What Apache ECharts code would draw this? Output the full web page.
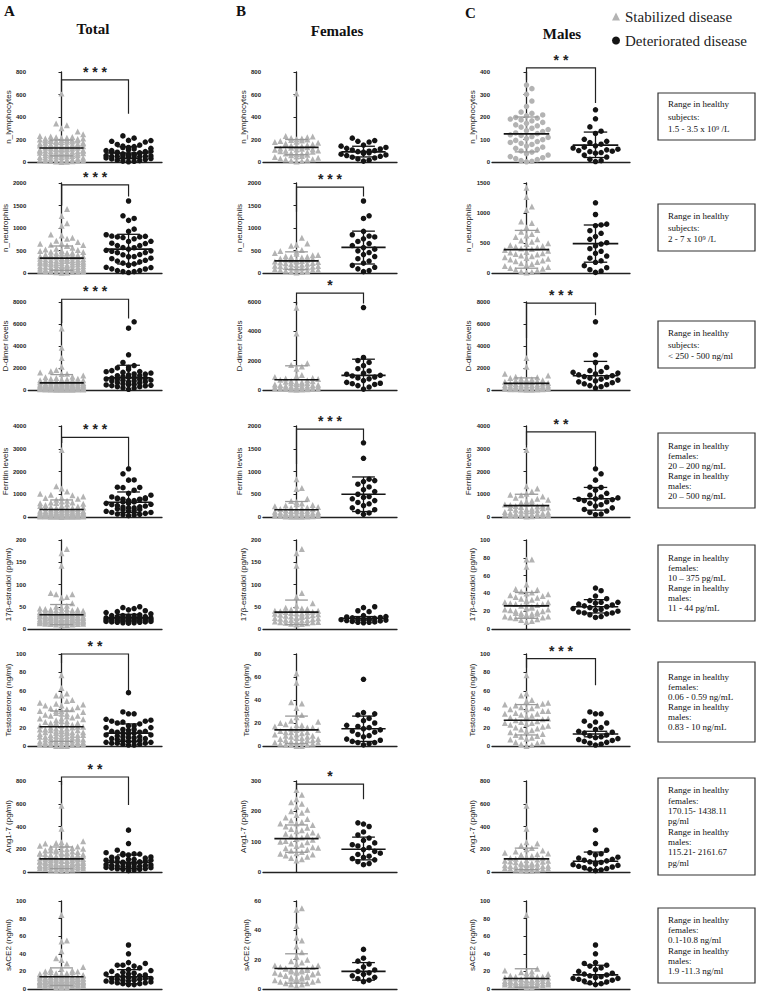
<!DOCTYPE html>
<html><head><meta charset="utf-8">
<script src="https://cdn.jsdelivr.net/npm/echarts/dist/echarts.min.js"></script>
<style>html,body{margin:0;padding:0;background:#fff}#chart{width:761px;height:993px}</style>
</head><body><div id="chart"></div>
<script>
// ---------- DATA ----------
const yNames = ['n_lymphocytes','n_neutrophils','D-dimer levels','Ferritin levels','17β-estradiol (pg/ml)','Testosterone (ng/ml)','Ang1-7 (pg/ml)','sACE2 (ng/ml)'];
const colTitles = ['Total','Females','Males'];
const colLetters = ['A','B','C'];
const yMaxA = [800,2000,8000,4000,200,100,800,100];
const yMaxB = [800,2000,6000,2000,200,80,300,60];
const yMaxC = [400,1500,8000,4000,100,100,800,100];
const yStepA = [200,500,2000,1000,50,20,200,20];
const yStepB = [200,500,2000,500,50,20,100,20];
const yStepC = [100,500,2000,1000,20,20,200,20];

const lymF_S = [610,232,226,219,214,208,203,199,196,191,187,181,177,171,164,158,153,147,141,137,131,127,121,117,113,108,103,99,95,91,86,81,75,71,65,59,54,49,44,38,31,25,19,13,8,4,151,112,73,22];
const lymF_D = [212,191,184,177,151,141,129,122,116,107,101,96,92,87,82,77,69,63,57,51,43,36,27,16,8];
const lymM_S = [342,326,301,271,247,222,216,209,205,198,195,191,187,183,176,172,165,161,155,150,144,139,135,129,126,121,118,113,109,104,99,96,91,87,83,78,71,66,61,56,49,44,37,31,24,19,15,11,6,3,1];
const lymM_D = [232,192,156,137,127,101,92,86,79,72,66,62,57,54,51,48,46,42,39,31,22,12,6,2];

const neuF_S = [782,655,628,604,512,488,470,445,430,402,396,372,355,347,322,318,301,296,284,272,266,251,243,236,221,214,203,195,182,176,163,158,141,133,122,117,104,92,85,71,64,52,43,31,22,12,362,258,148,66];
const neuF_D = [1600,1272,1212,925,850,822,801,760,702,655,610,566,530,492,455,410,366,318,265,220,170,126,92,55,30];
const neuM_S = [1420,1268,1108,1052,858,832,762,718,688,652,624,598,563,541,522,497,483,464,451,437,426,409,398,384,371,352,343,329,316,307,290,281,264,252,236,223,208,197,182,164,151,133,117,102,84,71,53,41,27,17,8];
const neuM_D = [1170,975,815,801,788,705,662,608,561,505,482,452,405,361,328,282,247,203,178,122,89,55,31,10];

const ddF_S = [5600,3850,1820,1700,1600,1450,1020,960,880,822,781,742,698,664,618,592,561,528,503,471,452,418,401,382,358,341,322,298,283,262,248,232,213,201,188,172,159,142,131,118,109,98,91,79,72,61,52,41,33,21];
const ddF_D = [5620,2220,2010,1880,1660,1450,1300,1150,1080,1000,960,880,820,760,640,520,460,430,380,300,200,60];
const ddM_S = [2900,2110,1480,1320,1215,1152,1083,1018,978,942,897,861,824,778,741,702,663,628,604,567,542,509,483,461,437,422,398,383,357,342,318,303,279,262,238,221,203,182,163,141,128,122,108,101,92,79,71,58,52,39,31,18];
const ddM_D = [6200,3200,2500,2050,1760,1680,1600,1540,1460,1380,1300,1220,1160,1080,980,900,820,740,660,560,480,400,300,180];

const ferF_S = [830,640,615,402,352,331,298,281,263,252,236,219,211,198,191,178,172,158,151,139,133,124,117,107,101,94,87,83,76,71,63,58,53,47,44,39,36,31,28,23,21,16,13,10,8,6,4,121,62,29];
const ferF_D = [1630,1290,830,800,780,720,660,600,560,500,450,430,400,360,320,290,250,200,160,120,90,60];
const ferM_S = [2950,1350,1250,1120,1020,980,960,902,848,801,762,718,683,641,602,578,551,522,497,481,458,442,419,401,383,362,338,321,302,279,262,241,218,203,182,161,152,139,131,118,111,98,91,82,68,61,52,41,29,19];
const ferM_D = [2120,1900,1620,1310,1300,1180,1040,960,880,840,800,780,760,720,660,600,540,480,400,330,260,200,130,100];

const estF_S = [180,170,142,81,72,58,52,48,46,45,44,42,41,40,39,38,37,36,35,34,33,32,31,30,29,28,27,26,25,24,23,22,21,20,19,18,17,16,15,14,13,12,11,10,41,30,20,15,35,25];
const estF_D = [50,48,41,39,30,28,27,26,25,24,23,22,21,21,20,19,18,17,16,15,15,14];
const estM_S = [78,78,70,50,45,44,42,41,40,39,38,37,36,35,34,33,32,31,30,30,29,28,27,26,25,24,24,23,22,21,20,20,19,18,17,17,16,15,15,14,14,13,13,12,11,10,9,8,28,22,18,16];
const estM_D = [46,43,37,34,32,30,30,29,28,27,26,25,24,23,22,21,20,19,18,18,17,16,14,13];

const tesF_S = [63,55,38,37,33,27,25,22,21,20,19,18,18,17,16,15,15,14,13,12,12,11,10,10,9,8,8,7,6,6,5,5,4,4,3,3,2,2,1,1,0,0,16,14,12,9,7,5,3,1];
const tesF_D = [58,29,28,27,24,22,20,18,17,16,15,14,13,12,10,9,8,6,5,4,3,3,2,1];
const tesM_S = [77,57,55,50,49,47,46,45,44,44,42,41,40,38,38,36,35,34,33,32,31,30,30,28,27,26,25,24,23,22,21,20,19,18,17,16,15,13,12,11,10,9,8,7,5,4,3,2,1,0,40,25,29,35];
const tesM_D = [37,35,35,27,26,25,22,20,18,16,15,14,12,11,10,9,8,7,6,5,4,3,2,1];

const angF_S = [270,255,240,230,225,215,205,200,195,188,180,175,170,165,160,155,150,146,142,138,134,130,126,122,118,114,110,106,102,98,94,90,86,82,78,74,70,66,62,58,54,50,46,42,38,160,120,100,80,60];
const angF_D = [162,158,150,132,122,112,104,96,90,86,80,74,68,62,58,52,48,44,40,34,28,24];
const angM_S = [582,380,262,250,232,210,200,190,180,170,162,155,148,140,134,128,122,116,110,104,98,92,86,80,76,72,68,64,60,56,52,48,44,40,36,32,28,24,20,16,12,8,150,120,100,90,70,60,50,40,30,20];
const angM_D = [368,250,192,170,160,150,130,122,112,104,98,90,84,78,70,64,58,50,44,38,30,24,18,12];

const aceF_S = [55,54,43,35,33,29,25,22,20,19,18,17,16,15,15,14,14,13,13,12,12,11,11,10,10,9,9,8,8,7,7,6,6,5,5,4,4,3,3,2,16,14,12,10,8,6,11,9,7,13];
const aceF_D = [27,21,19,17,15,13,12,11,10,9,8,7,6,5];
const aceM_S = [84,23,21,20,19,18,17,16,15,15,14,14,13,13,12,12,11,11,11,10,10,10,9,9,9,8,8,8,7,7,7,6,6,6,5,5,5,4,4,4,3,3,2,2,14,12,10,9,8,7,6,5];
const aceM_D = [50,40,30,29,27,26,24,22,20,18,17,16,15,14,13,12,12,11,10,9,8,7,6,5];

// mean, mean-SD, mean+SD : [A stab, A det, B stab, B det, C stab, C det]
const lymStats = [[125,55,195],[80,30,135],[130,65,200],[90,45,140],[125,45,200],[75,20,133]];
const neuStats = [[330,60,600],[530,200,860],[270,80,470],[570,200,930],[390,80,710],[490,180,800]];
const ddStats  = [[650,0,1400],[1100,0,2250],[700,0,1650],[1000,0,2100],[600,0,1100],[1300,0,2600]];
const ferStats = [[330,0,750],[650,200,1100],[160,0,340],[500,120,880],[500,0,1000],[800,300,1300]];
const estStats = [[32,10,55],[25,18,33],[38,10,65],[24,20,28],[26,12,41],[25,18,33]];
const tesStats = [[21,5,38],[14,5,24],[14,2,26],[15,4,26],[28,12,45],[13,10,16]];
const angStats = [[115,30,220],[85,30,150],[110,65,155],[75,40,115],[115,20,210],[95,20,175]];
const aceStats = [[14,4,24],[14,6,22],[14,4,24],[12,6,18],[12,2,23],[16,6,27]];

// significance: [column, row, stars, bracket top, left leg end, right leg end]
const sigCols  = [0,2,0,1,0,1,2,0,1,2,0,2,0,1];
const sigRows  = [0,0,1,1,2,2,2,3,3,3,5,5,6,6];
const sigStars = ['* * *','* *','* * *','* * *','* * *','*','* * *','* * *','* * *','* *','* *','* * *','* *','*'];
const sigTop   = [730,418,1960,1910,8250,6600,7900,3500,1930,3740,100,95,835,290];
const sigLeft  = [625,364,1500,1360,6100,5870,4700,3250,1160,3170,90,85,765,272];
const sigRight = [430,262,1700,1700,6500,5900,6800,2200,1680,2200,61,66,590,240];

const boxTexts = [
 'Range in healthy\nsubjects:\n1.5 - 3.5 x 10⁹ /L',
 'Range in healthy\nsubjects:\n2 - 7 x 10⁹ /L',
 'Range in healthy\nsubjects:\n< 250 - 500 ng/ml',
 'Range in healthy\nfemales:\n20 – 200 ng/mL\nRange in healthy\nmales:\n20 – 500 ng/mL',
 'Range in healthy\nfemales:\n10 – 375 pg/mL\nRange in healthy\nmales:\n11 - 44 pg/mL',
 'Range in healthy\nfemales:\n0.06 - 0.59 ng/mL\nRange in healthy\nmales:\n0.83 - 10 ng/mL',
 'Range in healthy\nfemales:\n170.15- 1438.11\npg/ml\nRange in healthy\nmales:\n115.21- 2161.67\npg/ml',
 'Range in healthy\nfemales:\n0.1-10.8 ng/ml\nRange in healthy\nmales:\n1.9 -11.3 ng/ml'
];

// ---------- LAYOUT ----------
const rowTop = [72,183,302,426,540,654,781,901];
const rowBot = [162,273,390,517,629,746,872,989];
const colLeft = [28,263,492];
const colW = [134,134,138];
const boxY = [93,204,321,433,545,662,778,908];
const boxH = [47,47,47,75,76,80,97,75];
const boxLH = [12.5,11.5,11.5,10,10,10,10.3,10.3];

const vars = [
  [lymF_S,lymF_D,lymM_S,lymM_D,lymStats],
  [neuF_S,neuF_D,neuM_S,neuM_D,neuStats],
  [ddF_S,ddF_D,ddM_S,ddM_D,ddStats],
  [ferF_S,ferF_D,ferM_S,ferM_D,ferStats],
  [estF_S,estF_D,estM_S,estM_D,estStats],
  [tesF_S,tesF_D,tesM_S,tesM_D,tesStats],
  [angF_S,angF_D,angM_S,angM_D,angStats],
  [aceF_S,aceF_D,aceM_S,aceM_D,aceStats]
];
const yMax = [yMaxA,yMaxB,yMaxC];
const yStep = [yStepA,yStepB,yStepC];

const GREY = '#b3b3b3', BLACK = '#141414';

// deterministic beeswarm layout (pixel collision avoidance)
function swarm(values, g, pxPerVal, pxPerX, dx, dy, maxK){
  const sorted = values.slice().sort((a,b)=>a-b);
  const placed = [], out = [];
  const cand = [0];
  for (let k=1;k<=maxK;k++){ cand.push(k); cand.push(-k); }
  sorted.forEach(v=>{
    const py = v*pxPerVal;
    let best = null, bestCnt = Infinity;
    for (const k of cand){
      const px = k*dx;
      let cnt = 0;
      for (const p of placed){ if (Math.abs(p[0]-px) < dx*0.98 && Math.abs(p[1]-py) < dy) cnt++; }
      if (cnt < bestCnt){ bestCnt = cnt; best = px; if (cnt===0) break; }
    }
    placed.push([best, py]);
    out.push([g + best/pxPerX, v]);
  });
  return out;
}

const grids=[], xAxes=[], yAxes=[], series=[];
const L = (a,b,col,wid)=>({type:'line', shape:{x1:a[0],y1:a[1],x2:b[0],y2:b[1]}, style:{stroke:col, lineWidth:wid}});
for (let c=0;c<3;c++){
  for (let r=0;r<8;r++){
    const idx = c*8+r;
    const h = rowBot[r]-rowTop[r], w = colW[c];
    const ymax = yMax[c][r];
    grids.push({left:colLeft[c], top:rowTop[r], width:w, height:h, containLabel:false});
    xAxes.push({gridIndex:idx, type:'value', min:-0.5, max:1.5,
      axisLine:{show:true, onZero:false, lineStyle:{color:'#222', width:1.3}},
      axisTick:{show:false}, axisLabel:{show:false}, splitLine:{show:false}});
    const lblChars = String(ymax).length;
    yAxes.push({gridIndex:idx, type:'value', min:0, max:ymax, interval:yStep[c][r],
      name:yNames[r], nameLocation:'middle', nameGap: lblChars*3.4+4,
      nameTextStyle:{fontSize:8, fontFamily:'Liberation Sans', color:'#222'},
      axisLine:{show:true, lineStyle:{color:'#222', width:1.3}},
      axisTick:{show:true, length:3, lineStyle:{color:'#222', width:1}},
      axisLabel:{fontSize:6, fontWeight:'bold', margin:2, color:'#222', fontFamily:'Liberation Sans', formatter:(v)=>String(v)},
      splitLine:{show:false}});
    const v = vars[r];
    let stab, det;
    if (c===0){ stab = v[0].concat(v[2]); det = v[1].concat(v[3]); }
    else if (c===1){ stab = v[0]; det = v[1]; }
    else { stab = v[2]; det = v[3]; }
    const ppv = h/ymax, ppx = w/2;
    const st = v[4];
    const statData = [[0, st[c*2][0], st[c*2][1], st[c*2][2]], [1, st[c*2+1][0], st[c*2+1][1], st[c*2+1][2]]];
    // SD vertical lines (beneath points)
    series.push({type:'custom', xAxisIndex:idx, yAxisIndex:idx, silent:true, z:1, encode:{x:0, y:1}, data:statData,
      renderItem:function(params, api){
        const g = api.value(0), lo = api.value(2), hi = api.value(3);
        return L(api.coord([g,lo]), api.coord([g,hi]), g===0 ? '#8a8a8a' : BLACK, 1.3);
      }});
    series.push({type:'scatter', name:'Stabilized disease', xAxisIndex:idx, yAxisIndex:idx, silent:true, z:2,
      symbol: (c===2 && r===0) ? 'circle' : 'triangle', symbolSize: (c===2 && r===0) ? 5.5 : 6,
      itemStyle:{color:GREY, opacity:1}, data: swarm(stab,0,ppv,ppx,5.4,7,4)});
    series.push({type:'scatter', name:'Deteriorated disease', xAxisIndex:idx, yAxisIndex:idx, silent:true, z:3,
      symbol:'circle', symbolSize:5.5, itemStyle:{color:BLACK, opacity:1}, data: swarm(det,1,ppv,ppx,5.6,7,4)});
    // SD caps and mean line (on top)
    series.push({type:'custom', xAxisIndex:idx, yAxisIndex:idx, silent:true, z:5, encode:{x:0, y:1}, data:statData,
      renderItem:function(params, api){
        const g = api.value(0), m = api.value(1), lo = api.value(2), hi = api.value(3);
        const sdCol = g===0 ? '#9a9a9a' : BLACK;
        const ch = [];
        if (lo > 0) ch.push(L(api.coord([g-0.17,lo]), api.coord([g+0.17,lo]), sdCol, 1.3));
        ch.push(L(api.coord([g-0.17,hi]), api.coord([g+0.17,hi]), sdCol, 1.3));
        ch.push(L(api.coord([g-0.33,m]), api.coord([g+0.33,m]), BLACK, 1.6));
        return {type:'group', children:ch};
      }});
  }
}
// significance brackets
for (let i=0;i<sigCols.length;i++){
  const idx = sigCols[i]*8 + sigRows[i];
  const stars = sigStars[i];
  series.push({type:'custom', xAxisIndex:idx, yAxisIndex:idx, silent:true, z:6, clip:false,
    encode:{x:0, y:1},
    data:[[0.5, sigTop[i], sigLeft[i], sigRight[i]]],
    renderItem:function(params, api){
      const top = api.value(1), lb = api.value(2), rb = api.value(3);
      const p1 = api.coord([0,lb]), p2 = api.coord([0,top]), p3 = api.coord([1,top]), p4 = api.coord([1,rb]);
      return {type:'group', children:[
        {type:'polyline', shape:{points:[p1,p2,p3,p4]}, style:{stroke:'#222', lineWidth:1.2, fill:null}},
        {type:'text', x:(p2[0]+p3[0])/2, y:p2[1]-1, style:{text:stars, fill:'#222', font:'bold 14px "Liberation Sans"', align:'center', verticalAlign:'bottom', textAlign:'center', textVerticalAlign:'bottom'}}
      ]};
    }});
}

const graphics = [];
const letterX = [4,236,465], titleX = [93,337,562], titleY = [29,31,34];
for (let c=0;c<3;c++){
  graphics.push({type:'text', x:letterX[c], y:3 + (c===2?2:0), style:{text:colLetters[c], fill:'#111', font:'bold 15px "Liberation Serif"'}});
  graphics.push({type:'text', x:titleX[c], y:titleY[c], style:{text:colTitles[c], fill:'#111', font:'bold 15px "Liberation Serif"', align:'center', verticalAlign:'middle', textAlign:'center', textVerticalAlign:'middle'}});
}
for (let i=0;i<8;i++){
  graphics.push({type:'rect', shape:{x:658, y:boxY[i], width:97, height:boxH[i]}, style:{fill:'#fff', stroke:'#333', lineWidth:1.2}});
  graphics.push({type:'text', x:668, y:boxY[i]+boxH[i]/2, style:{text:boxTexts[i], fill:'#111', font:'9px "Liberation Serif"', lineHeight:boxLH[i], align:'left', verticalAlign:'middle', textAlign:'left', textVerticalAlign:'middle'}});
}

const chart = echarts.init(document.getElementById('chart'), null, {renderer:'svg'});
chart.setOption({
  animation:false,
  backgroundColor:'#fff',
  grid:grids, xAxis:xAxes, yAxis:yAxes, series:series,
  legend:{left:607, top:4, orient:'vertical', itemGap:9, itemWidth:8, itemHeight:8,
    textStyle:{fontFamily:'Liberation Serif', fontSize:15, color:'#222'},
    data:[{name:'Stabilized disease', icon:'triangle'}, {name:'Deteriorated disease', icon:'circle'}],
    selectedMode:false},
  graphic:graphics
});
</script></body></html>
